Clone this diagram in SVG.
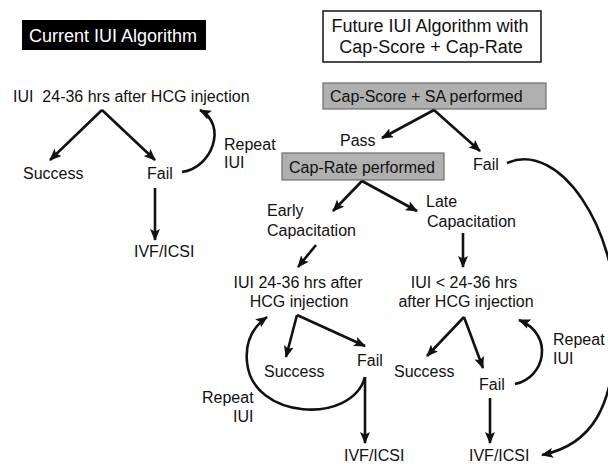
<svg xmlns="http://www.w3.org/2000/svg" width="608" height="464" viewBox="0 0 608 464">
<style>
text{font-family:"Liberation Sans",Arial,sans-serif;font-size:16px;fill:#111;}
.title{font-size:18px;}
.ws{white-space:pre;}
.mid{text-anchor:middle;}
.gray{fill:#b0b0b0;stroke:#6e6e6e;stroke-width:1.2;}
.conn{fill:none;stroke:#111;stroke-width:2.6;marker-end:url(#ah);}
</style>
<defs>
<marker id="ah" markerUnits="userSpaceOnUse" viewBox="0 0 12 10" refX="11" refY="5" markerWidth="12" markerHeight="10" orient="auto">
<path d="M0,0 L12,5 L0,10 L2.5,5 z" fill="#111"/>
</marker>
</defs>
<rect width="608" height="464" fill="#fff"/>

<g id="current-title">
<rect x="22" y="20" width="184" height="30" fill="#000"/>
<text class="title" x="29" y="42" style="fill:#fff">Current IUI Algorithm</text>
</g>
<g id="cur-iui"><text class="ws" x="13" y="102">IUI  24-36 hrs after HCG injection</text></g>
<g id="cur-success"><text x="23" y="179">Success</text></g>
<g id="cur-fail"><text x="147" y="179">Fail</text></g>
<g id="cur-ivf"><text x="134" y="257">IVF/ICSI</text></g>
<g id="cur-repeat"><text x="224" y="150">Repeat</text><text x="224" y="168">IUI</text></g>

<g id="future-title">
<rect x="323" y="11" width="218" height="51" fill="#fff" stroke="#111" stroke-width="1.5"/>
<text class="title mid" x="430" y="32">Future IUI Algorithm with</text>
<text class="title mid" x="431" y="53">Cap-Score + Cap-Rate</text>
</g>
<g id="capscore">
<rect class="gray" x="323" y="83" width="223" height="26"/>
<text x="330" y="102">Cap-Score + SA performed</text>
</g>
<g id="pass"><text x="340" y="146">Pass</text></g>
<g id="fut-fail"><text x="473" y="170">Fail</text></g>
<g id="caprate">
<rect class="gray" x="282" y="153" width="162" height="27"/>
<text x="289" y="173">Cap-Rate performed</text>
</g>
<g id="early"><text x="267" y="216">Early</text><text x="267" y="236">Capacitation</text></g>
<g id="late"><text x="426" y="207">Late</text><text x="427" y="227">Capacitation</text></g>
<g id="early-iui"><text class="mid" x="298" y="288">IUI 24-36 hrs after</text><text class="mid" x="299" y="307">HCG injection</text></g>
<g id="late-iui"><text class="mid" x="464" y="288">IUI &lt; 24-36 hrs</text><text class="mid" x="466" y="307">after HCG injection</text></g>
<g id="early-success"><text x="264" y="377">Success</text></g>
<g id="early-fail"><text x="357" y="366">Fail</text></g>
<g id="early-ivf"><text x="344" y="461">IVF/ICSI</text></g>
<g id="early-repeat"><text x="202" y="403">Repeat</text><text x="233" y="422">IUI</text></g>
<g id="late-success"><text x="394" y="377">Success</text></g>
<g id="late-fail"><text x="479" y="390">Fail</text></g>
<g id="late-ivf"><text x="469" y="461">IVF/ICSI</text></g>
<g id="late-repeat"><text x="553" y="345">Repeat</text><text x="553" y="364">IUI</text></g>

<g id="connectors">
<line class="conn" x1="102" y1="110" x2="50" y2="160"/>
<line class="conn" x1="102" y1="110" x2="155" y2="160"/>
<line class="conn" x1="155" y1="188" x2="155" y2="240"/>
<path class="conn" d="M182,172 C212,168 228,125 200,110"/>

<line class="conn" x1="434" y1="110" x2="382" y2="138"/>
<line class="conn" x1="434" y1="110" x2="480" y2="151"/>
<line class="conn" x1="362" y1="181" x2="333" y2="211"/>
<line class="conn" x1="362" y1="181" x2="417" y2="211"/>
<line class="conn" x1="316" y1="245" x2="298" y2="267"/>
<line class="conn" x1="463" y1="233" x2="463" y2="267"/>

<line class="conn" x1="297" y1="315" x2="286" y2="357"/>
<line class="conn" x1="297" y1="315" x2="365" y2="346"/>
<line class="conn" x1="365" y1="377" x2="365" y2="443"/>
<path class="conn" d="M365,377 C352,425 252,420 247,362 C245,342 253,327 267,317"/>

<line class="conn" x1="464" y1="317" x2="427" y2="356"/>
<line class="conn" x1="464" y1="317" x2="483" y2="368"/>
<line class="conn" x1="490" y1="398" x2="490" y2="443"/>
<path class="conn" d="M515,384 C545,378 555,335 519,320"/>

<path class="conn" d="M507,163 C560,140 618,230 616,320 C616,410 590,445 542,455"/>
</g>
</svg>
